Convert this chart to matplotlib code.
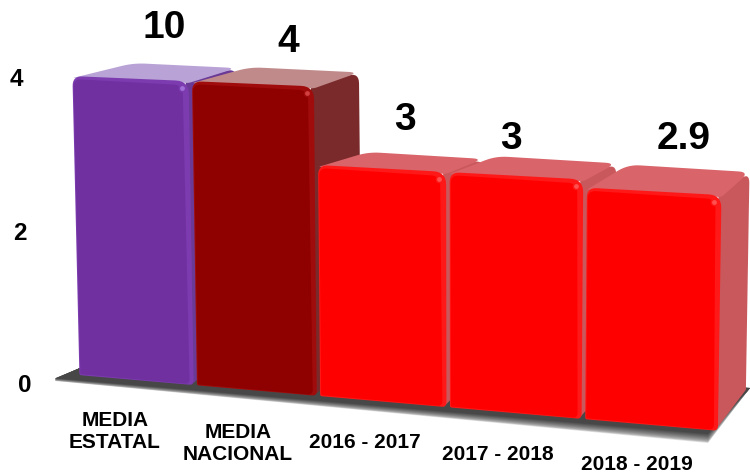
import matplotlib
matplotlib.use("Agg")
import matplotlib.pyplot as plt
import numpy as np

plt.rcParams['font.family'] = ['Liberation Sans', 'DejaVu Sans']

categories = ["MEDIA\nESTATAL", "MEDIA\nNACIONAL", "2016 - 2017", "2017 - 2018", "2018 - 2019"]
values = [10, 4, 3, 3, 2.9]
value_labels = ["10", "4", "3", "3", "2.9"]
y_ticks = [0, 2, 4]
y_max = 4

face_colors = ["#7030a0", "#8f0000", "#ff0000", "#ff0000", "#ff0000"]
bevel_colors = ["#7c3cb0", "#a00c0c", "#ff1818", "#ff1818", "#ff1818"]
glint_colors = ["#a070d8", "#d04040", "#ff5050", "#ff5050", "#ff5050"]
top_colors = ["#b9a3d6", "#c08a8a", "#d9646a", "#d9646a", "#d9646a"]
side_colors = ["#6a3a96", "#7a2a2a", "#c9585c", "#c9585c", "#c9585c"]

# depth of each bar on screen, px
depth_dx = [48, 45, 37, 33, 28]
depth_dy_top = [-13, -14, -13, -16, -23]
depth_dy_bottom = -41
# nudges of the bars along the baseline, in slots
slot_shift = [0, -0.015, -0.018, -0.005, 0.012]

# label positions, px
value_pos = [(164, 28), (288, 42), (405, 120), (511, 139), (684, 139)]
cat_pos = [(115, 431), (238, 443), (365, 442), (498, 454), (637, 465)]
tick_pos = {0: (25, 385), 2: (20, 233), 4: (16, 80)}


# plane of the bar fronts (slot, value) -> image px
def make_homography(src, dst):
    rows = []
    for (s, v), (x, y) in zip(src, dst):
        rows.append([s, v, 1, 0, 0, 0, -x * s, -x * v])
        rows.append([0, 0, 0, s, v, 1, -y * s, -y * v])
    sol = np.linalg.solve(np.array(rows, float), np.array(dst, float).ravel())
    return np.append(sol, 1).reshape(3, 3)


H = make_homography([(0, 0), (5, 0), (0, 4), (5, 4)],
                    [(78, 375), (720, 431), (71, 76), (725, 104)])


def proj(s, v):
    p = H @ np.array([s, v, 1.0])
    return p[:2] / p[2]


def rounded(corners, radius):
    # polygon with its corners cut by quadratic curves
    corners = [np.array(c, float) for c in corners]
    n = len(corners)
    out = []
    t = np.linspace(0, 1, 8)[:, None]
    for i in range(n):
        prev, cur, nxt = corners[i - 1], corners[i], corners[(i + 1) % n]
        r = radius[i] if isinstance(radius, (list, tuple)) else radius
        a = cur + (prev - cur) / np.linalg.norm(prev - cur) * r
        b = cur + (nxt - cur) / np.linalg.norm(nxt - cur) * r
        out.append((1 - t) ** 2 * a + 2 * t * (1 - t) * cur + t ** 2 * b)
    return np.vstack(out)


def fill_rounded(ax, corners, radius, color, z):
    pts = rounded(corners, radius)
    ax.fill(pts[:, 0], pts[:, 1], color=color, lw=0, zorder=z)


fig = plt.figure(figsize=(7.5, 4.75), dpi=100)
ax = fig.add_axes([0, 0, 1, 1])
ax.set_xlim(0, 750)
ax.set_ylim(475, 0)
ax.axis('off')

# floor, fades out towards its front edge
tip_l = np.array([55, 381.0])
tip_f = np.array([708, 443.0])
tip_r = np.array([750, 388.0])
back_l = np.array([80, 368.0])
steps = 12
for i in range(steps):
    f = i / (steps - 1)
    up = f * 9
    gray = 0.88 - 0.6 * f ** 0.6
    xs = [tip_l[0], tip_f[0], tip_r[0], back_l[0]]
    ys = [tip_l[1] - up * 0.3, tip_f[1] - up, tip_r[1], back_l[1]]
    ax.fill(xs, ys, color=str(gray), lw=0, zorder=1)

for i, val in enumerate(values):
    h = min(val, y_max)
    z = 2 + i
    s0, s1 = i + 0.012 + slot_shift[i], i + 0.985
    if i < 4:
        s1 += slot_shift[i + 1]
    fbl, fbr = proj(s0, 0), proj(s1, 0)
    ftl, ftr = proj(s0, h), proj(s1, h)
    off_top = np.array([depth_dx[i], depth_dy_top[i]])
    off_bot = np.array([depth_dx[i], depth_dy_bottom])

    # right side
    fill_rounded(ax, [ftr - (3, 0), ftr + off_top, fbr + off_bot, fbr - (3, 0)],
                 [1, 11, 1, 1], side_colors[i], z)
    # top
    fill_rounded(ax, [ftl + (0, 2), ftl + off_top + (13, 0), ftr + off_top, ftr + (0, 2)],
                 [3, 12, 11, 3], top_colors[i], z)
    # front, slightly lighter bevel under the main face
    fill_rounded(ax, [ftl, ftr, fbr, fbl], [10, 13, 5, 2], bevel_colors[i], z)
    inner = [ftl + (1, 3), ftr + (-6, 4), fbr + (-4, -1), fbl + (1, -1)]
    fill_rounded(ax, inner, [8, 9, 5, 1], face_colors[i], z)
    # glint on the corner
    c = ftr + (-7, 7)
    ax.scatter([c[0]], [c[1]], s=30, color=bevel_colors[i], lw=0, zorder=z)
    ax.scatter([c[0]], [c[1]], s=12, color=glint_colors[i], lw=0, zorder=z)

for lab, (x, y) in zip(value_labels, value_pos):
    ax.text(x, y, lab, fontsize=28, fontweight='bold', color='black',
            ha='center', va='center', zorder=10)

for lab, (x, y) in zip(categories, cat_pos):
    ax.text(x, y, lab, fontsize=15, fontweight='bold', color='black', ha='center',
            va='center', linespacing=1.2, zorder=10)

for t in y_ticks:
    x, y = tick_pos[t]
    ax.text(x, y, str(t), fontsize=17.5, fontweight='bold', color='black',
            ha='center', va='center', zorder=10)

fig.savefig("out.png", dpi=100)
